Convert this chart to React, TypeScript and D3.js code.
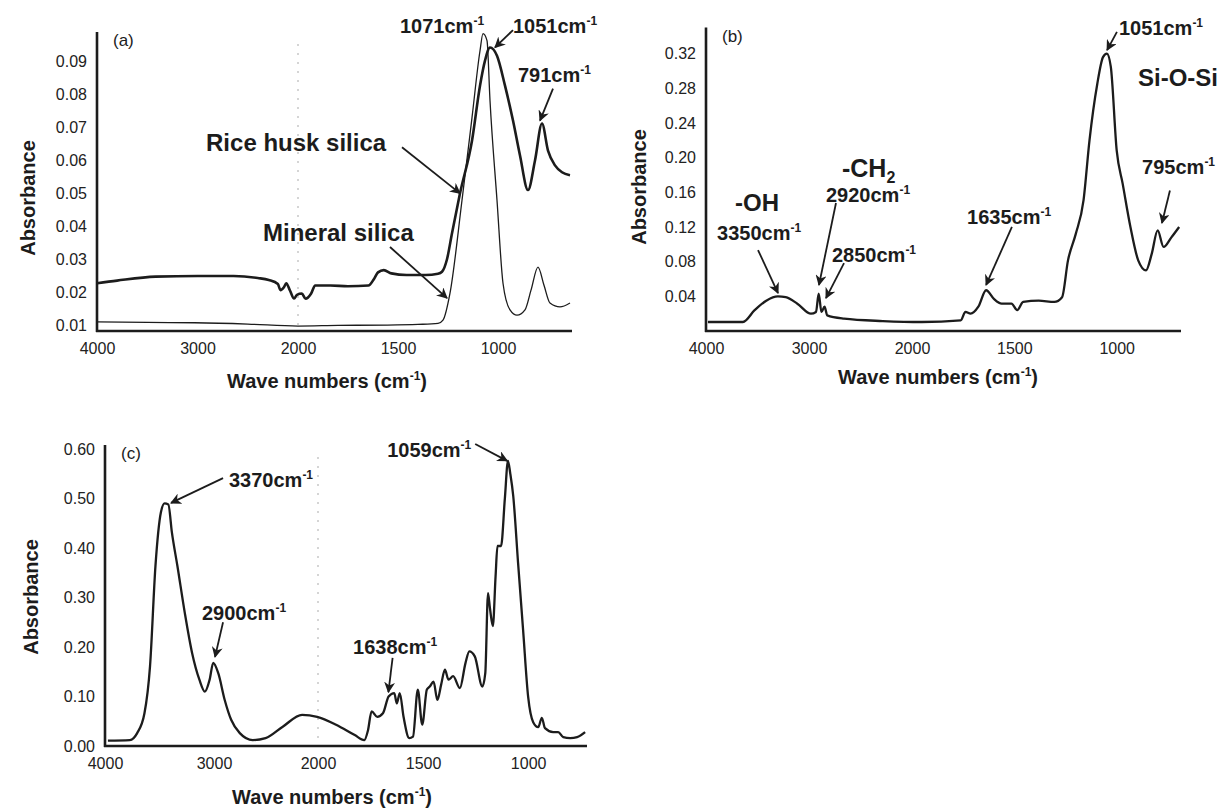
import React, { useEffect, useRef } from "react";
import * as d3 from "d3";

const FONT = "'Liberation Sans', Arial, Helvetica, sans-serif";
const INK = "#1c1c1c";

// tick labels
const xTickValues = [4000, 3000, 2000, 1500, 1000];
const yTicksA = [0.01, 0.02, 0.03, 0.04, 0.05, 0.06, 0.07, 0.08, 0.09];
const yTicksB = [0.04, 0.08, 0.12, 0.16, 0.2, 0.24, 0.28, 0.32];
const yTicksC = [0, 0.1, 0.2, 0.3, 0.4, 0.5, 0.6];

// (a) rice husk silica
const riceHuskWn = [4000, 3800, 3417, 3000, 2641, 2400, 2291, 2200, 2175, 2140, 2117, 2080, 2039, 2010, 1981, 1962, 1935, 1914, 1838, 1750, 1648, 1620, 1600, 1571, 1533, 1457, 1362, 1300, 1280, 1255, 1230, 1190, 1130, 1090, 1065, 1040, 1005, 965, 925, 890, 850, 815, 780, 750, 715, 680, 640];
const riceHuskAbs = [0.0227, 0.0235, 0.0247, 0.0249, 0.0249, 0.0243, 0.0237, 0.0225, 0.0206, 0.0215, 0.0227, 0.0205, 0.0181, 0.0192, 0.0196, 0.018, 0.0195, 0.022, 0.022, 0.0218, 0.022, 0.024, 0.026, 0.0267, 0.0257, 0.0252, 0.0252, 0.0256, 0.0262, 0.03, 0.0379, 0.05, 0.066, 0.0827, 0.0903, 0.0943, 0.0918, 0.0827, 0.0721, 0.0615, 0.051, 0.06, 0.0712, 0.063, 0.0585, 0.0564, 0.0555];

// (a) mineral silica
const mineralWn = [4000, 3500, 3029, 2500, 2000, 1800, 1552, 1400, 1300, 1275, 1240, 1180, 1130, 1090, 1075, 1055, 1040, 1005, 975, 940, 905, 865, 835, 800, 770, 740, 690, 640];
const mineralAbs = [0.011, 0.0108, 0.0107, 0.0103, 0.0097, 0.0099, 0.01, 0.0102, 0.0105, 0.0115, 0.0197, 0.0479, 0.073, 0.0933, 0.0985, 0.0964, 0.0782, 0.0479, 0.0227, 0.0146, 0.013, 0.0146, 0.0206, 0.0276, 0.0221, 0.0167, 0.0155, 0.0167];

// (b)
const spectrumBWn = [3981, 3641, 3528, 3415, 3302, 3226, 3113, 2981, 2932, 2906, 2879, 2849, 2823, 2660, 2283, 1952, 1762, 1739, 1714, 1676, 1638, 1600, 1562, 1514, 1486, 1457, 1381, 1305, 1267, 1238, 1200, 1162, 1133, 1095, 1067, 1048, 1029, 1000, 971, 933, 895, 857, 829, 800, 771, 733, 695];
const spectrumBAbs = [0.0104, 0.0104, 0.024, 0.035, 0.04, 0.039, 0.0315, 0.02, 0.022, 0.043, 0.022, 0.028, 0.018, 0.0142, 0.0115, 0.0104, 0.0123, 0.022, 0.02, 0.028, 0.047, 0.037, 0.0315, 0.0315, 0.024, 0.0335, 0.035, 0.0335, 0.039, 0.0815, 0.112, 0.151, 0.22, 0.285, 0.316, 0.32, 0.305, 0.208, 0.17, 0.12, 0.0815, 0.07, 0.089, 0.116, 0.097, 0.108, 0.12];

// (c)
const spectrumCWn = [3973, 3772, 3705, 3638, 3587, 3537, 3487, 3453, 3419, 3386, 3336, 3268, 3201, 3134, 3084, 3040, 3007, 2959, 2897, 2835, 2752, 2628, 2504, 2339, 2153, 2008, 1914, 1825, 1780, 1762, 1745, 1718, 1691, 1664, 1637, 1625, 1611, 1593, 1566, 1548, 1525, 1504, 1482, 1468, 1450, 1432, 1414, 1396, 1379, 1357, 1325, 1298, 1280, 1254, 1218, 1204, 1191, 1182, 1168, 1155, 1146, 1129, 1111, 1096, 1085, 1071, 1048, 1024, 1000, 976, 952, 935, 920, 881, 857, 833, 800, 767, 729];
const spectrumCAbs = [0.011, 0.012, 0.026, 0.066, 0.161, 0.364, 0.472, 0.49, 0.488, 0.431, 0.364, 0.269, 0.188, 0.134, 0.11, 0.134, 0.168, 0.147, 0.093, 0.053, 0.026, 0.012, 0.016, 0.039, 0.063, 0.059, 0.043, 0.022, 0.012, 0.032, 0.07, 0.059, 0.066, 0.1, 0.107, 0.086, 0.107, 0.059, 0.016, 0.019, 0.114, 0.043, 0.114, 0.12, 0.13, 0.093, 0.124, 0.154, 0.134, 0.141, 0.117, 0.168, 0.191, 0.181, 0.12, 0.147, 0.309, 0.279, 0.242, 0.343, 0.404, 0.404, 0.499, 0.576, 0.55, 0.505, 0.37, 0.234, 0.099, 0.048, 0.038, 0.057, 0.036, 0.028, 0.028, 0.018, 0.016, 0.018, 0.028];

// annotations: text left edge / vertical centre in data units
const labelsA = [
  { wn: 1490, abs: 0.1009, text: "1071cm", sup: "-1", size: 20 },
  { wn: 925, abs: 0.1009, text: "1051cm", sup: "-1", size: 20 },
  { wn: 900, abs: 0.0858, text: "791cm", sup: "-1", size: 20 },
  { wn: 2915, abs: 0.0655, text: "Rice husk silica", size: 24 },
  { wn: 2348, abs: 0.0382, text: "Mineral silica", size: 24 },
];
const arrowsA = [
  { from: [925, 0.0996], to: [1015, 0.0943] },
  { from: [725, 0.0818], to: [790, 0.0721] },
  { from: [1480, 0.064], to: [1190, 0.05] },
  { from: [1540, 0.0337], to: [1255, 0.0182] },
];
const labelsB = [
  { wn: 989, abs: 0.3495, text: "1051cm", sup: "-1", size: 20 },
  { wn: 896, abs: 0.2918, text: "Si-O-Si", size: 24 },
  { wn: 876, abs: 0.189, text: "795cm", sup: "-1", size: 20 },
  { wn: 2680, abs: 0.188, text: "-CH", sub: "2", size: 25 },
  { wn: 3718, abs: 0.1477, text: "-OH", size: 24 },
  { wn: 2835, abs: 0.157, text: "2920cm", sup: "-1", size: 20 },
  { wn: 3893, abs: 0.113, text: "3350cm", sup: "-1", size: 20 },
  { wn: 2777, abs: 0.0877, text: "2850cm", sup: "-1", size: 20 },
  { wn: 1731, abs: 0.1315, text: "1635cm", sup: "-1", size: 20 },
];
const arrowsB = [
  { from: [999, 0.345], to: [1047, 0.324] },
  { from: [740, 0.162], to: [779, 0.1246] },
  { from: [3495, 0.0934], to: [3301, 0.0438] },
  { from: [2738, 0.1477], to: [2903, 0.0531] },
  { from: [2660, 0.0784], to: [2835, 0.038] },
  { from: [1512, 0.12], to: [1638, 0.0531] },
];
const labelsC = [
  { wn: 2856, abs: 0.537, text: "3370cm", sup: "-1", size: 20 },
  { wn: 3110, abs: 0.269, text: "2900cm", sup: "-1", size: 20 },
  { wn: 1833, abs: 0.2, text: "1638cm", sup: "-1", size: 20 },
  { wn: 1671, abs: 0.598, text: "1059cm", sup: "-1", size: 20 },
];
const arrowsC = [
  { from: [2913, 0.541], to: [3394, 0.491] },
  { from: [2913, 0.25], to: [2990, 0.18] },
  { from: [1645, 0.178], to: [1665, 0.109] },
  { from: [1252, 0.61], to: [1100, 0.576] },
];

const panels = [
  {
    tag: "(a)",
    xDomain: [4000, 2000, 630], xRange: [97, 298, 572],
    yDomain: [0.0082, 0.099], yRange: [331, 32],
    yTicks: yTicksA,
    series: [
      { wn: riceHuskWn, abs: riceHuskAbs, width: 2.6 },
      { wn: mineralWn, abs: mineralAbs, width: 1.3 },
    ],
    labels: labelsA, arrows: arrowsA,
    guide: true,
    yTitle: [28, 198], xTitle: [327, 381],
  },
  {
    tag: "(b)",
    xDomain: [4000, 2000, 686], xRange: [706, 912, 1181],
    yDomain: [0, 0.35], yRange: [331, 27.6],
    yTicks: yTicksB,
    series: [{ wn: spectrumBWn, abs: spectrumBAbs, width: 2.3 }],
    labels: labelsB, arrows: arrowsB,
    guide: false,
    yTitle: [639, 187], xTitle: [938, 377],
  },
  {
    tag: "(c)",
    xDomain: [4000, 3000, 2000, 720], xRange: [105, 214, 318, 587],
    yDomain: [0, 0.608], yRange: [746, 445],
    yTicks: yTicksC,
    series: [{ wn: spectrumCWn, abs: spectrumCAbs, width: 2.3 }],
    labels: labelsC, arrows: arrowsC,
    guide: true,
    yTitle: [31, 597], xTitle: [332, 797],
  },
];

const App = () => {
  const svgRef = useRef<SVGSVGElement>(null);

  useEffect(() => {
    const svg = d3.select(svgRef.current);
    svg.selectAll("*").remove();

    svg.append("defs")
      .append("marker")
      .attr("id", "head")
      .attr("viewBox", "0 0 10 10")
      .attr("refX", 9)
      .attr("refY", 5)
      .attr("markerWidth", 11)
      .attr("markerHeight", 11)
      .attr("markerUnits", "userSpaceOnUse")
      .attr("orient", "auto")
      .append("path")
      .attr("d", "M0,0 L10,5 L0,10 L3,5 Z")
      .attr("fill", INK);

    panels.forEach(p => {
      const x = d3.scaleLinear().domain(p.xDomain).range(p.xRange);
      const y = d3.scaleLinear().domain(p.yDomain).range(p.yRange);
      const g = svg.append("g");
      const x0 = p.xRange[0];
      const x1 = p.xRange[p.xRange.length - 1];
      const yBottom = p.yRange[0];
      const yTop = p.yRange[1];

      // faint dotted scan line at the scale change
      if (p.guide) {
        g.append("line")
          .attr("x1", x(2000)).attr("x2", x(2000))
          .attr("y1", yTop + 12).attr("y2", yBottom)
          .attr("stroke", "#c8c8c8")
          .attr("stroke-width", 1.5)
          .attr("stroke-dasharray", "2,7");
      }

      // axes
      const xAxis = g.append("g")
        .attr("transform", `translate(0,${yBottom})`)
        .call(d3.axisBottom(x).tickValues(xTickValues).tickFormat(d3.format("d")).tickSize(0).tickPadding(12));
      xAxis.select(".domain").remove();
      xAxis.attr("font-family", FONT).attr("font-size", 16);
      xAxis.selectAll("text").attr("fill", "#222");

      const yAxis = g.append("g")
        .attr("transform", `translate(${x0},0)`)
        .call(d3.axisLeft(y).tickValues(p.yTicks).tickFormat(d3.format(".2f")).tickSize(0).tickPadding(10));
      yAxis.select(".domain").remove();
      yAxis.attr("font-family", FONT).attr("font-size", 16);
      yAxis.selectAll("text").attr("fill", "#222");

      g.append("line")
        .attr("x1", x0).attr("x2", x0)
        .attr("y1", yTop).attr("y2", yBottom + 1)
        .attr("stroke", INK).attr("stroke-width", 2.6);
      g.append("line")
        .attr("x1", x0 - 1).attr("x2", x1)
        .attr("y1", yBottom).attr("y2", yBottom)
        .attr("stroke", INK).attr("stroke-width", 2.6);

      // spectra
      p.series.forEach(s => {
        const line = d3.line<number>()
          .x((_, i) => x(s.wn[i]))
          .y(d => y(d))
          .curve(d3.curveMonotoneX);
        g.append("path")
          .attr("d", line(s.abs))
          .attr("fill", "none")
          .attr("stroke", INK)
          .attr("stroke-width", s.width)
          .attr("stroke-linejoin", "round");
      });

      // arrows
      p.arrows.forEach(a => {
        g.append("line")
          .attr("x1", x(a.from[0])).attr("y1", y(a.from[1]))
          .attr("x2", x(a.to[0])).attr("y2", y(a.to[1]))
          .attr("stroke", INK)
          .attr("stroke-width", 1.8)
          .attr("marker-end", "url(#head)");
      });

      // peak labels
      p.labels.forEach((l: any) => {
        const t = g.append("text")
          .attr("x", x(l.wn))
          .attr("y", y(l.abs))
          .attr("dy", "0.35em")
          .attr("font-family", FONT)
          .attr("font-weight", "bold")
          .attr("font-size", l.size)
          .attr("fill", INK)
          .text(l.text);
        if (l.sup) {
          t.append("tspan").attr("dy", -8).attr("font-size", 12).text(l.sup);
        }
        if (l.sub) {
          t.append("tspan").attr("dy", 6).attr("font-size", 16).text(l.sub);
        }
      });

      // panel tag
      g.append("text")
        .attr("x", x0 + 16)
        .attr("y", yTop + 14)
        .attr("font-family", FONT)
        .attr("font-size", 17)
        .attr("fill", INK)
        .text(p.tag);

      // axis titles
      g.append("text")
        .attr("transform", `translate(${p.yTitle[0]},${p.yTitle[1]}) rotate(-90)`)
        .attr("text-anchor", "middle")
        .attr("dy", "0.35em")
        .attr("font-family", FONT)
        .attr("font-weight", "bold")
        .attr("font-size", 20)
        .attr("fill", INK)
        .text("Absorbance");

      const xt = g.append("text")
        .attr("x", p.xTitle[0])
        .attr("y", p.xTitle[1])
        .attr("dy", "0.35em")
        .attr("text-anchor", "middle")
        .attr("font-family", FONT)
        .attr("font-weight", "bold")
        .attr("font-size", 20)
        .attr("fill", INK)
        .text("Wave numbers (cm");
      xt.append("tspan").attr("dy", -8).attr("font-size", 12).text("-1");
      xt.append("tspan").attr("dy", 8).text(")");
    });
  }, []);

  return (
    <div style={{ position: "absolute", left: 0, top: 0, width: 1220, height: 809, background: "#fff" }}>
      <svg ref={svgRef} width={1220} height={809}></svg>
    </div>
  );
};

export default App;
